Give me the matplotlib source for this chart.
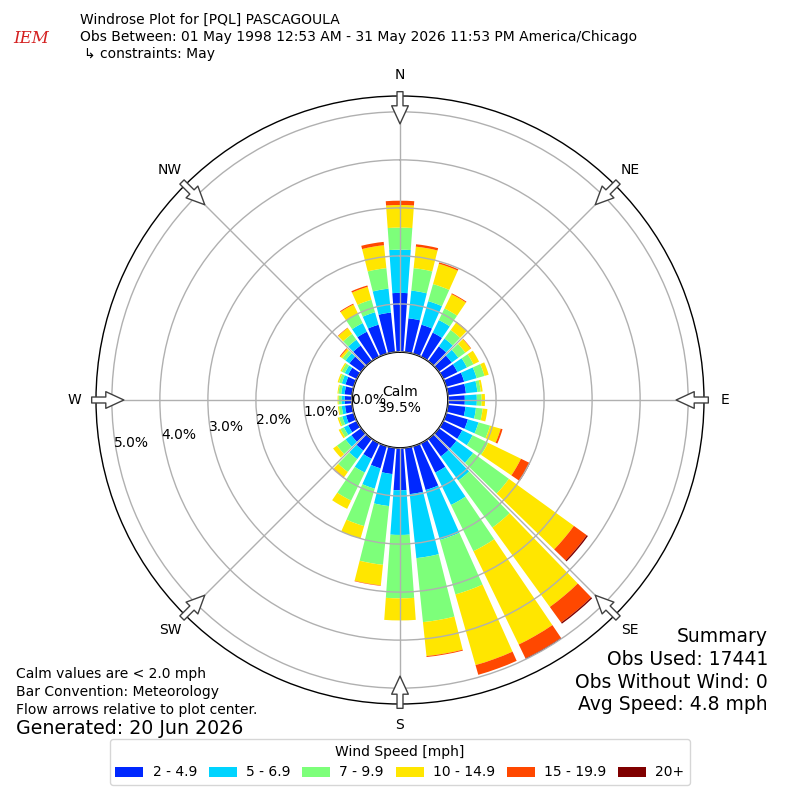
import numpy as np
import matplotlib
matplotlib.use("Agg")
import matplotlib.pyplot as plt
from matplotlib.patches import Patch

# ---- data (percent of observations) ----
directions = np.arange(0, 360, 10)
bin_labels = ["2 - 4.9", "5 - 6.9", "7 - 9.9", "10 - 14.9", "15 - 19.9", "20+"]
bin_colors = ["#0028ff", "#00d4ff", "#7dff7a", "#ffe600", "#ff4800", "#800000"]

spd_2_5 = [1.23, 0.71, 0.63, 0.56, 0.38, 0.33, 0.33, 0.39, 0.38, 0.35, 0.37, 0.47,
           0.44, 0.45, 0.45, 0.68, 0.95, 0.97, 0.88, 0.55, 0.48, 0.36, 0.30, 0.25,
           0.20, 0.17, 0.15, 0.15, 0.16, 0.18, 0.20, 0.30, 0.40, 0.58, 0.63, 0.83]
spd_5_7 = [0.90, 0.58, 0.51, 0.29, 0.20, 0.17, 0.22, 0.27, 0.24, 0.25, 0.22, 0.23,
           0.24, 0.43, 0.62, 0.75, 1.08, 1.34, 0.93, 0.67, 0.44, 0.32, 0.22, 0.15,
           0.10, 0.08, 0.07, 0.07, 0.07, 0.08, 0.08, 0.10, 0.15, 0.20, 0.27, 0.50]
spd_7_10 = [0.46, 0.47, 0.37, 0.27, 0.22, 0.18, 0.15, 0.17, 0.07, 0.10, 0.14, 0.25,
            0.36, 0.92, 1.21, 1.07, 1.18, 1.34, 1.32, 1.23, 0.81, 0.65, 0.33, 0.22,
            0.08, 0.07, 0.06, 0.06, 0.06, 0.06, 0.07, 0.08, 0.15, 0.22, 0.27, 0.43]
spd_10_15 = [0.47, 0.45, 0.44, 0.33, 0.20, 0.14, 0.13, 0.09, 0.04, 0.07, 0.10, 0.23,
             0.76, 1.67, 2.04, 2.16, 1.53, 0.71, 0.46, 0.43, 0.27, 0.19, 0.13, 0.10,
             0.04, 0.03, 0.02, 0.02, 0.02, 0.03, 0.03, 0.05, 0.15, 0.21, 0.28, 0.48]
spd_15_20 = [0.09, 0.05, 0.03, 0.02, 0.01, 0.01, 0.00, 0.00, 0.00, 0.00, 0.00, 0.04,
             0.20, 0.33, 0.40, 0.32, 0.21, 0.02, 0.00, 0.01, 0.00, 0.00, 0.01, 0.00,
             0.00, 0.00, 0.00, 0.00, 0.00, 0.00, 0.00, 0.02, 0.01, 0.02, 0.03, 0.07]
spd_20p = [0.00, 0.00, 0.00, 0.00, 0.00, 0.00, 0.00, 0.00, 0.00, 0.00, 0.00, 0.00,
           0.01, 0.03, 0.03, 0.02, 0.00, 0.00, 0.00, 0.00, 0.00, 0.00, 0.00, 0.00,
           0.00, 0.00, 0.00, 0.00, 0.00, 0.00, 0.00, 0.00, 0.00, 0.00, 0.00, 0.00]

calm_pct = 39.5
ring_values = [0, 1, 2, 3, 4, 5]
compass = ["N", "NE", "E", "SE", "S", "SW", "W", "NW"]

# ---- figure ----
fig = plt.figure(figsize=(8, 8), dpi=100)
ax = fig.add_axes([0.12, 0.12, 0.76, 0.76], projection="polar")
ax.set_theta_zero_location("N")
ax.set_theta_direction(-1)
ax.set_rorigin(-1.0)
ax.set_ylim(0, 5.33)

theta = np.deg2rad(directions)
width = np.deg2rad(8.2)
bottom = np.zeros(len(directions))
for vals, color in zip([spd_2_5, spd_5_7, spd_7_10, spd_10_15, spd_15_20, spd_20p],
                       bin_colors):
    vals = np.array(vals)
    ax.bar(theta, vals, width=width, bottom=bottom, color=color, linewidth=0,
           zorder=2)
    bottom += vals

# grid
ax.set_yticks(ring_values)
ax.set_yticklabels([])
ax.set_xticks(np.deg2rad(np.arange(0, 360, 45)))
ax.set_xticklabels([])
ax.grid(True, color="#b0b0b0", linewidth=1)
ax.set_axisbelow(False)
ax.spines["polar"].set_linewidth(1)
ax.spines["inner"].set_linewidth(1.3)

# ring labels
for v in ring_values:
    ax.text(np.deg2rad(261 if v else 270), v - 0.34, f"{v:.1f}%", ha="center",
            va="center", fontsize=10)

# compass labels + flow arrows
for i, lab in enumerate(compass):
    ang = np.deg2rad(i * 45)
    ax.text(ang, 5.77, lab, ha="center", va="center", fontsize=10)
    ax.annotate("", xy=(ang, 4.75), xytext=(ang, 5.42),
                arrowprops=dict(arrowstyle="simple,head_length=13,head_width=12,tail_width=4.3",
                                mutation_scale=1, fc="white", ec="#404040", lw=1,
                                shrinkA=0, shrinkB=0),
                annotation_clip=False, zorder=5)

# calm text
ax.text(0, -1, f"Calm\n{calm_pct:.1f}%", ha="center", va="center", fontsize=10,
        linespacing=1.1, zorder=6)

# header
fig.text(0.039, 0.952, "IEM", color="#d42020", fontsize=12, family="DejaVu Serif",
         style="italic", ha="center", va="center")
fig.text(0.1, 0.975, "Windrose Plot for [PQL] PASCAGOULA", fontsize=10, va="center")
fig.text(0.1, 0.954, "Obs Between: 01 May 1998 12:53 AM - 31 May 2026 11:53 PM America/Chicago",
         fontsize=10, va="center")
fig.text(0.105, 0.9325, "\u21b3 constraints: May", fontsize=10, va="center")

# footer left
fig.text(0.02, 0.1575, "Calm values are < 2.0 mph", fontsize=10, va="center")
fig.text(0.02, 0.135, "Bar Convention: Meteorology", fontsize=10, va="center")
fig.text(0.02, 0.1125, "Flow arrows relative to plot center.", fontsize=10, va="center")
fig.text(0.02, 0.089, "Generated: 20 Jun 2026", fontsize=13.7, va="center")

# summary right
summary = ["Summary", "Obs Used: 17441", "Obs Without Wind: 0", "Avg Speed: 4.8 mph"]
for line, y in zip(summary, [0.205, 0.176, 0.1475, 0.119]):
    fig.text(0.96, y, line, fontsize=13.5, ha="right", va="center")

# legend
handles = [Patch(facecolor=c, edgecolor="none") for c in bin_colors]
fig.legend(handles, bin_labels, loc="lower center", bbox_to_anchor=(0.5, 0.01),
           ncol=6, title="Wind Speed [mph]", fontsize=10, title_fontsize=10,
           handlelength=2.0, handletextpad=0.67, columnspacing=0.86,
           frameon=True, edgecolor="#cccccc")

fig.savefig("out.png", dpi=100)
